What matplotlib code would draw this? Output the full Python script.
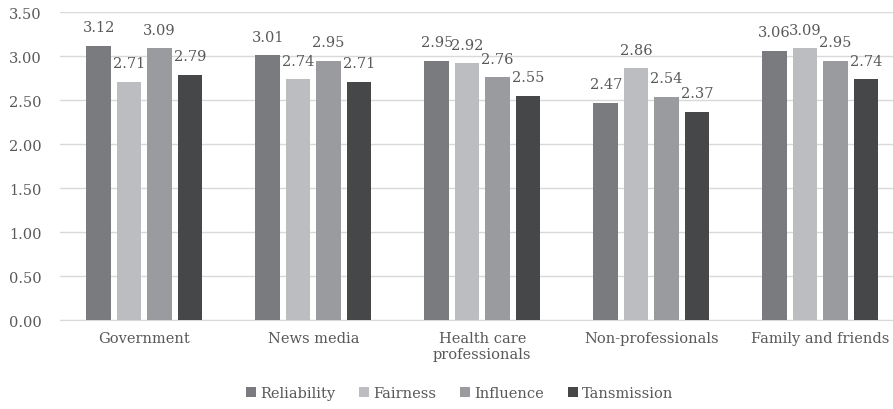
import matplotlib
matplotlib.use("Agg")
import matplotlib.pyplot as plt
import numpy as np

categories = ["Government", "News media", "Health care\nprofessionals", "Non-professionals", "Family and friends"]
series = ["Reliability", "Fairness", "Influence", "Tansmission"]
reliability = [3.12, 3.01, 2.95, 2.47, 3.06]
fairness = [2.71, 2.74, 2.92, 2.86, 3.09]
influence = [3.09, 2.95, 2.76, 2.54, 2.95]
transmission = [2.79, 2.71, 2.55, 2.37, 2.74]
values = [reliability, fairness, influence, transmission]
colors = ["#7a7b7f", "#bcbdc1", "#9a9b9f", "#464749"]

plt.rcParams['font.family'] = ['DejaVu Serif']
text_color = "#595959"

fig = plt.figure(figsize=(8.93, 4.10), dpi=100)
ax = fig.add_axes([0.067, 0.217, 0.933, 0.751])

x = np.arange(len(categories))
pitch = 0.18
width = 0.145
for i, (name, vals, c) in enumerate(zip(series, values, colors)):
    pos = x + (i - 1.5) * pitch
    bars = ax.bar(pos, vals, width, color=c, label=name, zorder=3)
    for p, v in zip(pos, vals):
        ax.text(p, v + 0.13, f"{v:.2f}", ha="center", va="bottom",
                fontsize=10.5, color=text_color)

ax.set_ylim(0, 3.5)
ax.set_yticks(np.arange(0, 3.51, 0.5))
ax.set_yticklabels([f"{t:.2f}" for t in np.arange(0, 3.51, 0.5)])
ax.set_xlim(-0.5, 4.43)
ax.set_xticks(x)
ax.set_xticklabels(categories)
ax.yaxis.grid(True, color="#d9d9d9", linewidth=1, zorder=0)
ax.tick_params(axis="both", length=0, labelsize=10.5, colors=text_color)
ax.tick_params(axis="y", pad=13)
ax.tick_params(axis="x", pad=8)
for s in ["top", "right", "left"]:
    ax.spines[s].set_visible(False)
ax.spines["bottom"].set_color("#d9d9d9")

leg = fig.legend(loc="lower center", bbox_to_anchor=(0.515, -0.01), ncol=4, frameon=False,
                 fontsize=10.5, handlelength=0.7, handleheight=0.7, handletextpad=0.3,
                 columnspacing=1.6)
for t in leg.get_texts():
    t.set_color(text_color)

fig.savefig("out.png", dpi=100)
